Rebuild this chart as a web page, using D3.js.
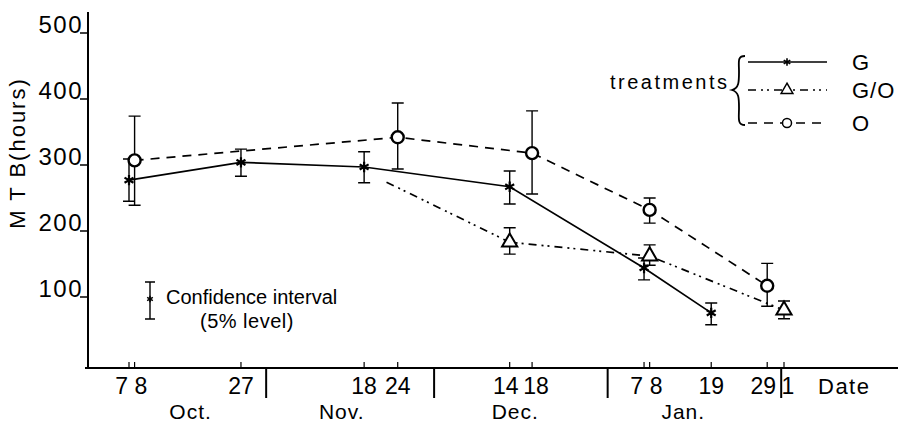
<!DOCTYPE html>
<html>

<head>
  <meta charset="utf-8" />
  <title>MTB by treatment</title>
  <style>
    body {
      margin: 0;
      background: #fff;
    }

    svg text {
      font-family: "Liberation Sans", Arial, sans-serif;
      fill: #000;
    }

    .axis-line {
      stroke: #000;
      stroke-width: 2;
    }

    .err {
      stroke: #000;
      stroke-width: 1.4;
      fill: none;
    }

    .series {
      fill: none;
      stroke: #000;
      stroke-width: 1.7;
    }
  </style>
  <script src="https://cdnjs.cloudflare.com/ajax/libs/d3/7.8.5/d3.min.js"></script>
</head>

<body>
  <div id="chartArea"></div>
  <script>
    // series G (asterisk, solid)
    var gDates = ['1975-10-07', '1975-10-27', '1975-11-18', '1975-12-14', '1976-01-07', '1976-01-19'];
    var gMTB = [277, 304, 297, 267, 144, 76];
    var gLow = [245, 283, 273, 241, 126, 58];
    var gHigh = [309, 324, 320, 291, 159, 91];

    // series G/O (triangle, dash-dot) - first point is where the line starts, no marker
    var goDates = ['1975-11-22', '1975-12-14', '1976-01-08', '1976-02-01'];
    var goMTB = [274, 183, 162, 80];
    var goLow = [null, 165, 148, 67];
    var goHigh = [null, 205, 179, 94];

    // series O (circle, dashed)
    var oDates = ['1975-10-08', '1975-11-24', '1975-12-18', '1976-01-08', '1976-01-29'];
    var oMTB = [307, 342, 318, 232, 117];
    var oLow = [239, 294, 256, 212, 86];
    var oHigh = [374, 394, 382, 250, 151];

    // axis ticks
    var yTicks = [100, 200, 300, 400, 500];
    var dayTickDates = ['1975-10-07', '1975-10-08', '1975-10-27', '1975-11-18', '1975-11-24',
      '1975-12-14', '1975-12-18', '1976-01-07', '1976-01-08', '1976-01-19', '1976-01-29', '1976-02-01'];
    var dayTickLabels = ['7', '8', '27', '18', '24', '14', '18', '7', '8', '19', '29', '1'];
    var monthBreaks = ['1975-10-31T12:00', '1975-11-30T12:00', '1975-12-31T12:00', '1976-01-31T12:00'];
    var monthLabelDates = ['1975-10-18', '1975-11-14', '1975-12-15', '1976-01-14'];
    var monthLabels = ['Oct.', 'Nov.', 'Dec.', 'Jan.'];

    var legendNames = ['G', 'G/O', 'O'];

    var W = 898, H = 427;
    var parse = function (s) { return new Date(s.length > 10 ? s : s + 'T00:00'); };

    var xScale = d3.scaleTime()
      .domain([parse('1975-10-07'), parse('1976-02-01')])
      .range([129, 784]);

    var yScale = d3.scaleLinear()
      .domain([0, 500])
      .range([363, 33]);

    var axisX = 88, axisY = 368;

    var svg = d3.select('#chartArea').append('svg')
      .attr('width', W)
      .attr('height', H);

    // axes
    svg.append('line').attr('class', 'axis-line')
      .attr('x1', axisX).attr('x2', axisX).attr('y1', 12).attr('y2', axisY + 1);
    svg.append('line').attr('class', 'axis-line')
      .attr('x1', axisX - 3).attr('x2', W).attr('y1', axisY).attr('y2', axisY);

    // y ticks
    svg.selectAll('.ytick').data(yTicks).enter().append('line')
      .attr('class', 'ytick')
      .attr('x1', axisX - 8).attr('x2', axisX)
      .attr('y1', d => yScale(d)).attr('y2', d => yScale(d))
      .attr('stroke', '#000').attr('stroke-width', 1.5);
    svg.selectAll('.ylab').data(yTicks).enter().append('text')
      .attr('class', 'ylab')
      .attr('x', axisX - 5).attr('y', d => yScale(d))
      .attr('text-anchor', 'end')
      .attr('font-size', 24).attr('letter-spacing', 1.5)
      .text(d => d);

    svg.append('text')
      .attr('transform', 'translate(25,153) rotate(-90)')
      .attr('text-anchor', 'middle')
      .attr('font-size', 22).attr('letter-spacing', 2)
      .text('M T B(hours)');

    // x day ticks; labels of close dates are pushed apart
    var dayMs = 864e5;
    var dayTicks = dayTickDates.map(function (d, i) {
      var t = parse(d);
      var prev = i > 0 ? parse(dayTickDates[i - 1]) : null;
      var next = i < dayTickDates.length - 1 ? parse(dayTickDates[i + 1]) : null;
      var anchor = 'middle', dx = 0;
      if (next && (next - t) <= dayMs) { anchor = 'end'; dx = -1; }
      else if (prev && (t - prev) <= dayMs) { anchor = 'start'; dx = 0; }
      else if (next && (next - t) <= 4 * dayMs) { dx = -4; }
      else if (prev && (t - prev) <= 4 * dayMs) { dx = 4; }
      return { date: t, label: dayTickLabels[i], anchor: anchor, dx: dx };
    });

    svg.selectAll('.xtick').data(dayTicks).enter().append('line')
      .attr('class', 'xtick')
      .attr('x1', d => xScale(d.date)).attr('x2', d => xScale(d.date))
      .attr('y1', axisY - 6).attr('y2', axisY)
      .attr('stroke', '#000').attr('stroke-width', 1.2);
    svg.selectAll('.xlab').data(dayTicks).enter().append('text')
      .attr('class', 'xlab')
      .attr('x', d => xScale(d.date) + d.dx).attr('y', 394)
      .attr('text-anchor', d => d.anchor)
      .attr('font-size', 23)
      .text(d => d.label);

    svg.selectAll('.mbreak').data(monthBreaks).enter().append('line')
      .attr('class', 'mbreak')
      .attr('x1', d => xScale(parse(d))).attr('x2', d => xScale(parse(d)))
      .attr('y1', axisY).attr('y2', 398)
      .attr('stroke', '#000').attr('stroke-width', 2);

    svg.selectAll('.mlab').data(monthLabels).enter().append('text')
      .attr('class', 'mlab')
      .attr('x', (d, i) => xScale(parse(monthLabelDates[i]))).attr('y', 419)
      .attr('text-anchor', 'middle')
      .attr('font-size', 21).attr('letter-spacing', 1)
      .text(d => d);

    svg.append('text')
      .attr('x', 818).attr('y', 394)
      .attr('font-size', 22).attr('letter-spacing', 1.5)
      .text('Date');

    // build point records
    function rows(dates, vals, lo, hi) {
      return dates.map(function (d, i) {
        return { date: parse(d), v: vals[i], lo: lo[i], hi: hi[i] };
      });
    }
    var gRows = rows(gDates, gMTB, gLow, gHigh);
    var goRows = rows(goDates, goMTB, goLow, goHigh);
    var oRows = rows(oDates, oMTB, oLow, oHigh);

    var line = d3.line()
      .x(d => xScale(d.date))
      .y(d => yScale(d.v));

    svg.append('path').datum(oRows).attr('class', 'series')
      .attr('stroke-dasharray', '9,7').attr('d', line);
    svg.append('path').datum(goRows).attr('class', 'series')
      .attr('stroke-dasharray', '8,5,2,4,2,5').attr('d', line);
    svg.append('path').datum(gRows).attr('class', 'series')
      .attr('d', line);

    // error bars
    function errorBars(data, cls) {
      var withErr = data.filter(d => d.lo != null);
      var g = svg.append('g').attr('class', cls);
      g.selectAll('.bar').data(withErr).enter().append('path')
        .attr('class', 'err')
        .attr('d', function (d) {
          var x = xScale(d.date), y1 = yScale(d.hi), y2 = yScale(d.lo), c = 6;
          return 'M' + x + ',' + y1 + 'V' + y2 +
            'M' + (x - c) + ',' + y1 + 'H' + (x + c) +
            'M' + (x - c) + ',' + y2 + 'H' + (x + c);
        });
    }
    errorBars(gRows, 'g-err');
    errorBars(goRows, 'go-err');
    errorBars(oRows, 'o-err');

    // markers
    var star = d3.symbol().type(d3.symbolAsterisk).size(75);
    var tri = d3.symbol().type(d3.symbolTriangle).size(100);

    svg.selectAll('.gmark').data(gRows).enter().append('path')
      .attr('class', 'gmark')
      .attr('transform', d => 'translate(' + xScale(d.date) + ',' + yScale(d.v) + ')')
      .attr('d', star).attr('fill', 'none').attr('stroke', '#000').attr('stroke-width', 2.2);

    svg.selectAll('.gomark').data(goRows.filter(d => d.lo != null)).enter().append('path')
      .attr('class', 'gomark')
      .attr('transform', d => 'translate(' + xScale(d.date) + ',' + yScale(d.v) + ')')
      .attr('d', tri).attr('fill', '#fff').attr('stroke', '#000').attr('stroke-width', 2);

    svg.selectAll('.omark').data(oRows).enter().append('circle')
      .attr('class', 'omark')
      .attr('cx', d => xScale(d.date)).attr('cy', d => yScale(d.v))
      .attr('r', 6).attr('fill', '#fff').attr('stroke', '#000').attr('stroke-width', 2.4);

    // legend
    var legY = [62, 90, 123];
    var legDash = [null, '8,5,2,4,2,5', '9,7'];
    var legend = svg.append('g');
    legend.selectAll('.legline').data(legendNames).enter().append('line')
      .attr('x1', 748).attr('x2', 827)
      .attr('y1', (d, i) => legY[i]).attr('y2', (d, i) => legY[i])
      .attr('stroke', '#000').attr('stroke-width', 1.4)
      .attr('stroke-dasharray', (d, i) => legDash[i]);
    legend.append('path').attr('transform', 'translate(787,' + legY[0] + ')')
      .attr('d', d3.symbol().type(d3.symbolAsterisk).size(40))
      .attr('fill', 'none').attr('stroke', '#000').attr('stroke-width', 1.6);
    legend.append('path').attr('transform', 'translate(787,' + legY[1] + ')')
      .attr('d', d3.symbol().type(d3.symbolTriangle).size(60))
      .attr('fill', '#fff').attr('stroke', '#000').attr('stroke-width', 1.5);
    legend.append('circle').attr('cx', 787).attr('cy', legY[2]).attr('r', 4.5)
      .attr('fill', '#fff').attr('stroke', '#000').attr('stroke-width', 1.5);
    legend.selectAll('.legtxt').data(legendNames).enter().append('text')
      .attr('x', 852).attr('y', (d, i) => legY[i] + 8)
      .attr('font-size', 22).attr('letter-spacing', 1)
      .text(d => d);
    legend.append('text')
      .attr('x', 610).attr('y', 89)
      .attr('font-size', 20).attr('letter-spacing', 2.5)
      .text('treatments');
    // curly brace
    legend.append('path')
      .attr('d', 'M745,56 C737,56 739,62 739,72 C739,82 739,88 732,90 ' +
        'C739,92 739,98 739,108 C739,118 737,125 745,125')
      .attr('fill', 'none').attr('stroke', '#000').attr('stroke-width', 1.8);

    // confidence interval key
    var ci = svg.append('g');
    ci.append('path').attr('class', 'err')
      .attr('d', 'M150,282V319M145,282H155M145,319H155');
    ci.append('path').attr('transform', 'translate(150,299)')
      .attr('d', d3.symbol().type(d3.symbolAsterisk).size(30))
      .attr('fill', 'none').attr('stroke', '#000').attr('stroke-width', 1.5);
    ci.append('text').attr('x', 166).attr('y', 304)
      .attr('font-size', 20)
      .text('Confidence interval');
    ci.append('text').attr('x', 200).attr('y', 328)
      .attr('font-size', 20).attr('letter-spacing', 0.5)
      .text('(5% level)');
  </script>
</body>

</html>
